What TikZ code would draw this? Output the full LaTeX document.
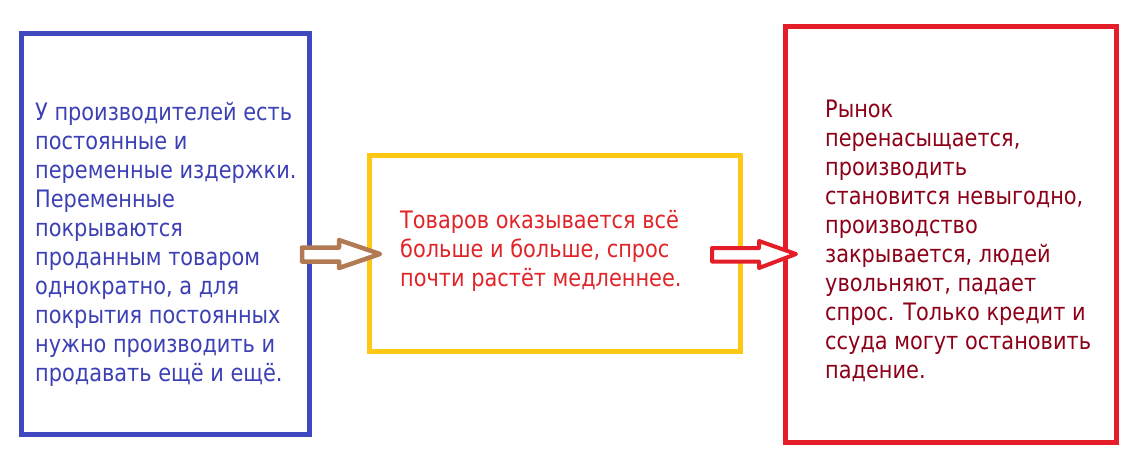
\documentclass[tikz,border=0pt]{standalone}
\usepackage{fontspec}
\setmainfont{DejaVu Sans}[FakeStretch=0.87]
\definecolor{bluebox}{RGB}{64,72,192}
\definecolor{bluetext}{RGB}{60,64,180}
\definecolor{yellowbox}{RGB}{255,200,20}
\definecolor{redbox}{RGB}{228,30,40}
\definecolor{redtext}{RGB}{224,36,40}
\definecolor{darkredtext}{RGB}{140,0,24}
\definecolor{brownarrow}{RGB}{178,122,82}
\tikzset{
  frame/.style={draw=#1, line width=5pt, inner sep=0pt},
  txt/.style={anchor=base west, inner sep=0pt, align=left, text=#1,
    font=\fontsize{24}{29}\selectfont},
  blockarrow/.style={draw=#1, line width=4.5pt, line join=round, fill=white}
}
\begin{document}
\begin{tikzpicture}[x=1pt,y=-1pt]
\useasboundingbox (0,0) rectangle (1137,467);
\fill[white] (0,0) rectangle (1137,467);
% boxes
\draw[frame=bluebox] (21.5,33.5) rectangle (309.5,434.5);
\draw[frame=yellowbox] (369.5,155) rectangle (740,351);
\draw[frame=redbox] (785,26) rectangle (1116.5,442.5);
% arrows
\draw[blockarrow=brownarrow] (302,247.5) -- (339,247.5) -- (339,240) -- (380,254) -- (339,268) -- (339,261.5) -- (302,261.5) -- cycle;
\draw[blockarrow=redbox, line width=4pt] (712,248) -- (759,248) -- (759,241) -- (796,254) -- (759,268) -- (759,261.5) -- (712,261.5) -- cycle;
% texts (anchored at the baseline of their last line)
\node[txt=bluetext] (t1) at (35,381) {У производителей есть\\постоянные и\\переменные издержки.\\Переменные\\покрываются\\проданным товаром\\однократно, а для\\покрытия постоянных\\нужно производить и\\продавать ещё и ещё.};
\node[txt=redtext] (t2) at (400,286) {Товаров оказывается всё\\больше и больше, спрос\\почти растёт медленнее.};
\node[txt=darkredtext] (t3) at (825,378) {Рынок\\перенасыщается,\\производить\\становится невыгодно,\\производство\\закрывается, людей\\увольняют, падает\\спрос. Только кредит и\\ссуда могут остановить\\падение.};
\end{tikzpicture}
\end{document}
